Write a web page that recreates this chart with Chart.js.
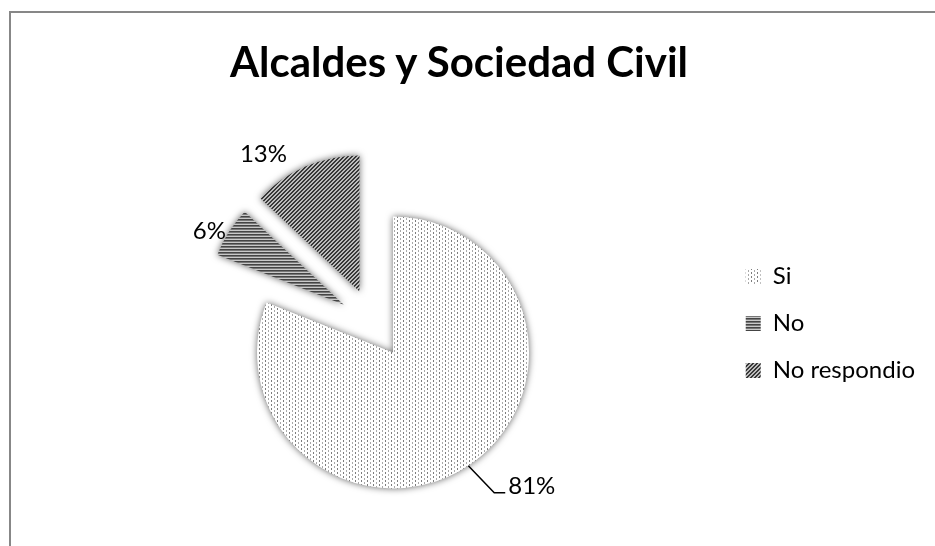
<!DOCTYPE html>
<html>
<head>
<meta charset="utf-8">
<script src="https://cdn.jsdelivr.net/npm/chart.js@4/dist/chart.umd.min.js"></script>
<style>
  body { margin: 0; background: #fff; }
  #wrap { position: relative; width: 935px; height: 546px; overflow: hidden; }
  #frame { position: absolute; left: 9px; top: 11px; right: 0; bottom: 0;
           border-top: 2px solid #878787; border-left: 2px solid #878787; }
  #title { position: absolute; left: 0; top: 40px; width: 918px; text-align: center;
           font: bold 42px Lato, "Open Sans", sans-serif; line-height: 42px; color: #000; }
  #myChart { position: absolute; left: 0; top: 0; }
</style>
</head>
<body>
<div id="wrap">
  <div id="frame"></div>
  <canvas id="myChart" width="935" height="546"></canvas>
  <div id="title">Alcaldes y Sociedad Civil</div>
</div>
<script>
const categories = ["Si", "No", "No respondio"];
const shares = [81, 6, 13];
const shareLabels = ["81%", "6%", "13%"];

// small tiles for the hatch fills
function makePattern(w, h, draw) {
  const c = document.createElement("canvas");
  c.width = w;
  c.height = h;
  const g = c.getContext("2d");
  draw(g);
  return g.createPattern(c, "repeat");
}

const dotted = makePattern(6, 4, (g) => {
  g.fillStyle = "#ffffff";
  g.fillRect(0, 0, 6, 4);
  g.fillStyle = "#7d7d7d";
  g.fillRect(1, 0, 1, 2);
  g.fillStyle = "#a8a8a8";
  g.fillRect(4, 2, 1, 2);
});

const horizontal = makePattern(4, 3, (g) => {
  g.fillStyle = "#c8c8c8";
  g.fillRect(0, 0, 4, 3);
  g.fillStyle = "#444444";
  g.fillRect(0, 0, 4, 1);
  g.fillStyle = "#777777";
  g.fillRect(0, 1, 4, 1);
});

const diagonal = makePattern(4, 4, (g) => {
  g.fillStyle = "#bcbcbc";
  g.fillRect(0, 0, 4, 4);
  g.fillStyle = "#383838";
  for (let i = 0; i < 4; i++) {
    g.fillRect(3 - i, i, 1, 1);
    g.fillRect((4 - i) % 4, i, 1, 1);
  }
});

// Excel style "explode": push every slice out from the centre
const explodePlugin = {
  id: "explode",
  afterDatasetUpdate(chart, args, opts) {
    args.meta.data.forEach((arc) => {
      const mid = (arc.startAngle + arc.endAngle) / 2;
      arc.x += Math.cos(mid) * opts.distance;
      arc.y += Math.sin(mid) * opts.distance;
    });
  },
  beforeDatasetsDraw(chart) {
    const ctx = chart.ctx;
    ctx.save();
    ctx.shadowColor = "rgba(0,0,0,0.6)";
    ctx.shadowBlur = 7;
  },
  afterDatasetsDraw(chart) {
    chart.ctx.restore();
  },
};

// percentage labels, the big slice gets a leader line
const labelPlugin = {
  id: "sliceLabels",
  afterDatasetsDraw(chart, args, opts) {
    const ctx = chart.ctx;
    const arcs = chart.getDatasetMeta(0).data;
    ctx.save();
    ctx.font = opts.font;
    ctx.fillStyle = "#000";
    ctx.strokeStyle = "#000";
    ctx.lineWidth = 1.5;
    arcs.forEach((arc, i) => {
      const a = opts.anchors[i];
      const span = arc.endAngle - arc.startAngle;
      if (a.leader) {
        const ang0 = arc.startAngle + span * a.at;
        const ang1 = arc.startAngle + span * a.bend;
        const x0 = arc.x + Math.cos(ang0) * arc.outerRadius;
        const y0 = arc.y + Math.sin(ang0) * arc.outerRadius;
        const x1 = arc.x + Math.cos(ang1) * (arc.outerRadius + a.dist);
        const y1 = arc.y + Math.sin(ang1) * (arc.outerRadius + a.dist);
        ctx.beginPath();
        ctx.moveTo(x0, y0);
        ctx.lineTo(x1, y1);
        ctx.lineTo(x1 + 11, y1);
        ctx.stroke();
        ctx.textAlign = "left";
        ctx.textBaseline = "alphabetic";
        ctx.fillText(shareLabels[i], x1 + 14, y1 + 1);
      } else {
        const ang = arc.startAngle + span * a.at;
        const r = arc.outerRadius + a.dist;
        ctx.textAlign = "center";
        ctx.textBaseline = "middle";
        ctx.fillText(shareLabels[i], arc.x + Math.cos(ang) * r, arc.y + Math.sin(ang) * r);
      }
    });
    ctx.restore();
  },
};

new Chart(document.getElementById("myChart"), {
  type: "pie",
  data: {
    labels: categories,
    datasets: [
      {
        data: shares,
        backgroundColor: [dotted, horizontal, diagonal],
        borderWidth: 0,
        hoverOffset: 0,
      },
    ],
  },
  options: {
    responsive: false,
    animation: false,
    events: [],
    radius: 136,
    layout: {
      padding: { left: 24, right: 10, top: 101, bottom: 0 },
    },
    plugins: {
      title: { display: false },
      tooltip: { enabled: false },
      legend: {
        position: "right",
        align: "center",
        labels: {
          color: "#000",
          boxWidth: 15,
          boxHeight: 15,
          padding: 23,
          font: { family: "Lato", size: 24 },
        },
      },
      explode: { distance: 35 },
      sliceLabels: {
        font: "24px Lato",
        anchors: [
          { leader: true, at: 0.502, bend: 0.4945, dist: 37 },
          { at: 0.32, dist: 17 },
          { at: 0.25, dist: 31 },
        ],
      },
    },
  },
  plugins: [explodePlugin, labelPlugin],
});
</script>
</body>
</html>
